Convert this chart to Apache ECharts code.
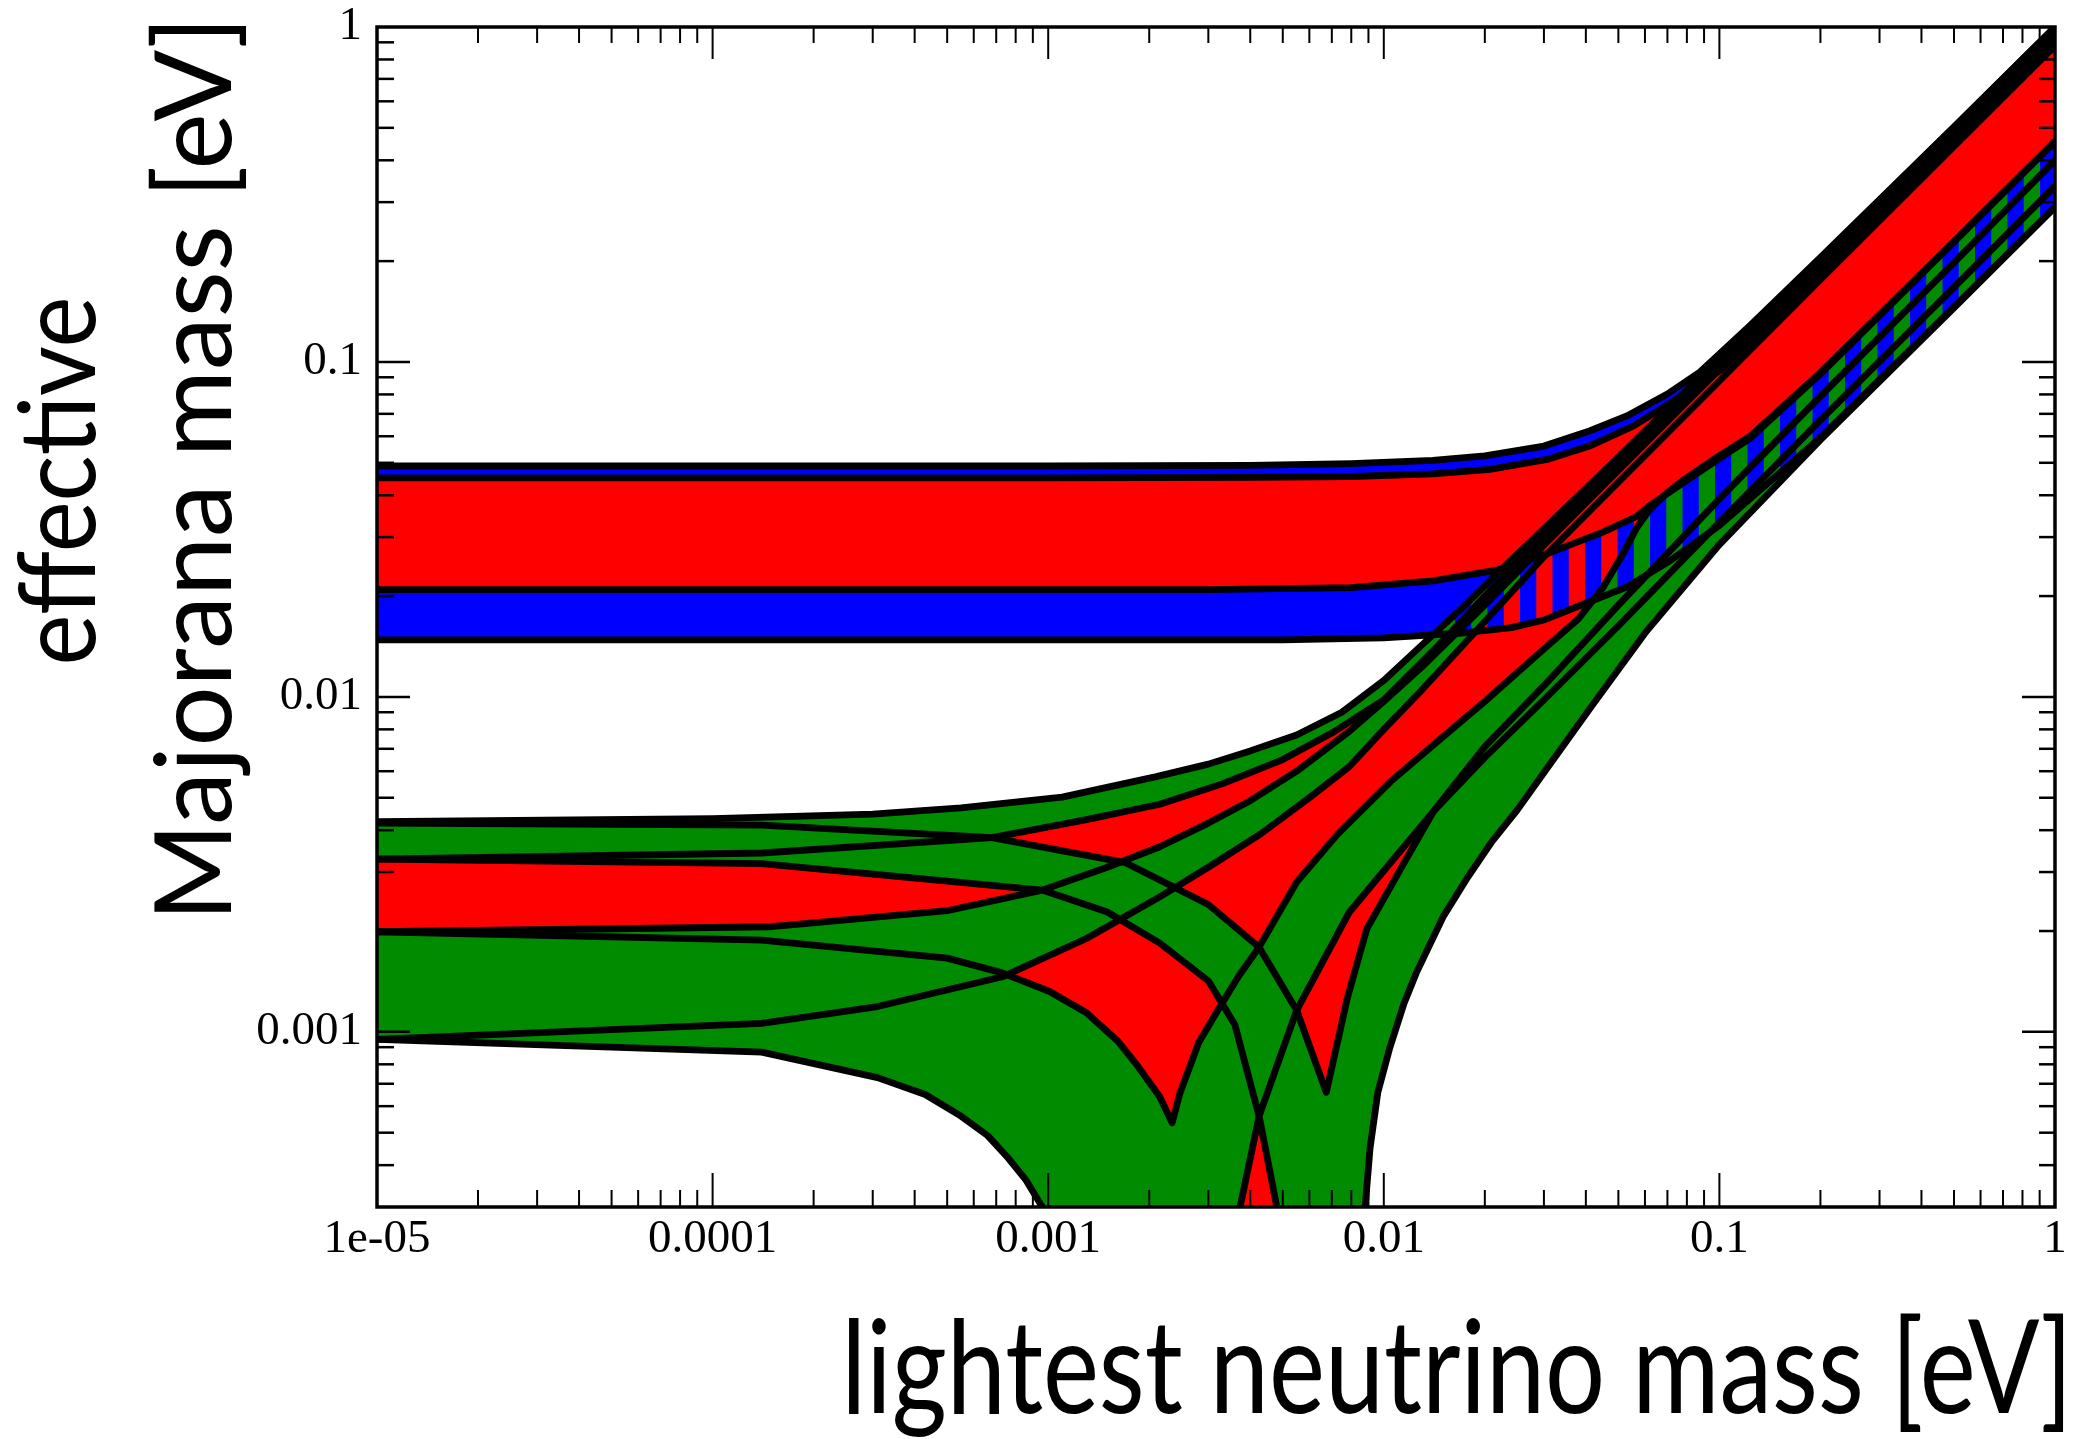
<!DOCTYPE html>
<html><head><meta charset="utf-8">
<script src="https://cdn.jsdelivr.net/npm/echarts@6/dist/echarts.min.js"></script>
<style>html,body{margin:0;padding:0;background:#fff}#c{width:2082px;height:1439px}</style>
</head><body><div id="c"></div>
<script>
// ---------- axis definitions ----------
const X_MIN = 1e-5, X_MAX = 1, Y_MIN = 3e-4, Y_MAX = 1;
const xTickValues = [1e-5, 1e-4, 1e-3, 1e-2, 1e-1, 1];
const xTickLabels = ['1e-05', '0.0001', '0.001', '0.01', '0.1', '1'];
const yTickValues = [1e-3, 1e-2, 1e-1, 1];
const yTickLabels = ['0.001', '0.01', '0.1', '1'];
const minorMultipliers = [2, 3, 4, 5, 6, 7, 8, 9];
const xDecades = [1e-5, 1e-4, 1e-3, 1e-2, 1e-1];
const yDecades = [1e-4, 1e-3, 1e-2, 1e-1];

// ---------- normal hierarchy curves [lightest mass, effective mass] ----------
const nhF1High = [[1e-5,0.00424],[1e-4,0.00433],[3e-4,0.00447],[5.5e-4,0.00466],[1.1e-3,0.00502],[2.1e-3,0.00578],[3e-3,0.0063],[4e-3,0.0069],[5.5e-3,0.0077],[7.5e-3,0.0090],[1e-2,0.0112],[1.3e-2,0.0143],[1.7e-2,0.0183],[2.2e-2,0.0236],[3e-2,0.0318],[5e-2,0.052],[0.1,0.103],[0.2,0.204],[0.5,0.502],[1,1.0]];
const nhF1Low  = [[1e-5,0.00328],[1.4e-4,0.00342],[6.8e-4,0.0038],[1.3e-3,0.0043],[2.15e-3,0.00478],[3.3e-3,0.0055],[5e-3,0.0065],[7e-3,0.0078],[1e-2,0.0098],[1.45e-2,0.0142],[2e-2,0.0200],[3e-2,0.0302],[5e-2,0.0502],[0.1,0.0995],[0.2,0.199],[0.5,0.495],[1,0.985]];
const nhF2High = [[1e-5,0.00199],[1.5e-4,0.00206],[5e-4,0.0023],[9.6e-4,0.00265],[1.5e-3,0.0031],[2.15e-3,0.00357],[3e-3,0.0042],[4e-3,0.0049],[5.5e-3,0.006],[7.9e-3,0.0079],[1e-2,0.0097],[1.3e-2,0.0123],[2e-2,0.0188],[3e-2,0.0284],[5e-2,0.0475],[0.1,0.095],[0.2,0.19],[0.5,0.474],[1,0.948]];
const nhF2Low  = [[1e-5,0.00095],[1.4e-4,0.00106],[3.1e-4,0.00119],[7.3e-4,0.00146],[1.3e-3,0.0019],[2.15e-3,0.00253],[3e-3,0.0031],[4.3e-3,0.0039],[6e-3,0.005],[7.9e-3,0.0062],[1e-2,0.008],[1.3e-2,0.0105],[2e-2,0.0168],[3e-2,0.0262],[5e-2,0.0438],[0.1,0.0878],[0.2,0.176],[0.5,0.44],[1,0.88]];
const nhF3High = [[1e-5,0.00199],[1.4e-4,0.00188],[5e-4,0.00166],[7.3e-4,0.0015],[1.01e-3,0.00132],[1.3e-3,0.00114],[1.61e-3,0.00094],[1.85e-3,0.00079],[2.15e-3,0.00064],[2.34e-3,0.000535],[2.47e-3,0.000657],[2.81e-3,0.00093],[3.17e-3,0.00114],[3.7e-3,0.00147],[4.25e-3,0.00179],[5.5e-3,0.0028],[7.3e-3,0.0039],[1.05e-2,0.0056],[1.5e-2,0.0076],[2e-2,0.0097],[3e-2,0.0139],[3.8e-2,0.0171],[4.5e-2,0.0212],[5.1e-2,0.0262],[5.65e-2,0.0318],[6.19e-2,0.0362],[7e-2,0.0408],[7.79e-2,0.0443],[0.1,0.0525],[0.123,0.0598],[0.2,0.093],[0.5,0.229],[1,0.456]];
const nhF3Low  = [[1e-5,0.00095],[1.4e-4,0.00087],[3.1e-4,0.00073],[4.3e-4,0.00065],[5.5e-4,0.00056],[6.6e-4,0.00049],[7.6e-4,0.00042],[8.6e-4,0.00036],[9.6e-4,0.0003],[1.05e-3,0.0002],[1.1e-3,0.0001],[3.4e-3,0.0001],[3.73e-3,0.0003],[4.25e-3,0.00056],[5.5e-3,0.00116],[7.9e-3,0.00228],[1.41e-2,0.00457],[2e-2,0.0066],[3e-2,0.0098],[5e-2,0.0163],[0.1,0.0332],[0.2,0.067],[0.5,0.167],[1,0.335]];
const nhF4High = [[1e-5,0.0042],[1.4e-4,0.00414],[6.8e-4,0.0038],[1.7e-3,0.0032],[2.15e-3,0.00284],[3e-3,0.0024],[4.25e-3,0.00179],[5.5e-3,0.00116],[6.74e-3,0.00066],[7.8e-3,0.00127],[8.9e-3,0.00203],[1.14e-2,0.00315],[1.41e-2,0.00457],[2e-2,0.0071],[3e-2,0.0108],[5e-2,0.0188],[0.1,0.039],[0.2,0.079],[0.5,0.198],[1,0.40]];
const nhF4Low  = [[1e-5,0.00328],[1.4e-4,0.00318],[9.6e-4,0.00265],[1.5e-3,0.00228],[2.15e-3,0.00184],[3e-3,0.00142],[3.6e-3,0.00105],[4.25e-3,0.00056],[4.8e-3,0.0003],[5.2e-3,0.0001],[8.3e-3,0.0001],[8.8e-3,0.0003],[9.1e-3,0.00045],[9.6e-3,0.00066],[1.04e-2,0.00089],[1.15e-2,0.00122],[1.25e-2,0.0015],[1.5e-2,0.0022],[1.78e-2,0.0029],[2.1e-2,0.0037],[2.5e-2,0.0046],[3.2e-2,0.0065],[4.2e-2,0.0095],[6e-2,0.0155],[0.1,0.0285],[0.2,0.0585],[0.5,0.145],[1,0.29]];

// ---------- inverted hierarchy curves ----------
const ihUpHigh = [[1e-5,0.0489],[1e-3,0.0489],[4e-3,0.0491],[8e-3,0.0497],[1.4e-2,0.0508],[2e-2,0.0524],[3e-2,0.0561],[4.1e-2,0.0622],[5.3e-2,0.069],[7e-2,0.0802],[8.75e-2,0.0933],[0.123,0.128],[0.2,0.205],[0.5,0.503],[1,1.0]];
const ihUpLow  = [[1e-5,0.0451],[1e-3,0.0451],[4e-3,0.0452],[8e-3,0.0455],[1.4e-2,0.0463],[2.07e-2,0.0478],[3.1e-2,0.0513],[4.1e-2,0.0561],[5.55e-2,0.0644],[7e-2,0.0745],[0.1,0.094],[0.2,0.186],[0.5,0.465],[1,0.93]];
const ihDnHigh = [[1e-5,0.0209],[3e-3,0.0209],[8e-3,0.0212],[1.4e-2,0.0222],[2.17e-2,0.0239],[3.14e-2,0.027],[4.48e-2,0.031],[5.65e-2,0.0345],[6.19e-2,0.0372],[7.79e-2,0.0435],[0.1,0.0515],[0.123,0.059],[0.2,0.092],[0.5,0.228],[1,0.455]];
const ihDnLow  = [[1e-5,0.0148],[5e-3,0.0148],[1e-2,0.015],[1.7e-2,0.0155],[2.4e-2,0.0161],[3.02e-2,0.017],[4.03e-2,0.0191],[5.31e-2,0.0213],[7e-2,0.0252],[0.1,0.0325],[0.2,0.0595],[0.5,0.146],[1,0.29]];

// ---------- styling ----------
const RED = '#ff0000', GREEN = '#008b00', BLUE = '#0000ff';
const CURVE_W = 6.8;

function stripeCanvas(color) {
  const c = document.createElement('canvas');
  c.width = 65; c.height = 8;
  const g = c.getContext('2d');
  g.fillStyle = color;
  g.fillRect(25, 0, 16.25, 8);
  g.fillRect(57.5, 0, 7.5, 8);
  g.fillRect(0, 0, 8.75, 8);
  return c;
}
const blueStripes = { image: stripeCanvas(BLUE), repeat: 'repeat' };

// lower edge of the normal-hierarchy region, taken from the data curves
const nhLowerEnvelope = nhF3Low.filter(p => p[0] <= 1.1e-3).concat(nhF4Low.filter(p => p[0] >= 8.3e-3));

const pts = (api, arr) => arr.map(p => api.coord(p));
const band = (api, upper, lower, fill) => ({
  type: 'polygon',
  shape: { points: pts(api, upper).concat(pts(api, lower).reverse()) },
  style: { fill: fill, stroke: null }
});
const curve = (api, arr) => ({
  type: 'polyline',
  shape: { points: pts(api, arr) },
  style: { stroke: '#000', lineWidth: CURVE_W, fill: null, lineJoin: 'round', lineCap: 'butt' }
});

function layer(z, clip, build) {
  return {
    type: 'custom', coordinateSystem: 'cartesian2d', clip: clip, z: z, silent: true,
    animation: false, data: [[1e-3, 1e-2]], encode: { x: 0, y: 1 },
    renderItem: (params, api) => ({ type: 'group', children: build(api) })
  };
}

function frameAndTicks(api) {
  const tl = api.coord([X_MIN, Y_MAX]), br = api.coord([X_MAX, Y_MIN]);
  const L = tl[0], T = tl[1], R = br[0], B = br[1];
  const els = [];
  const seg = (x1, y1, x2, y2, w) => els.push({ type: 'line', shape: { x1, y1, x2, y2 }, style: { stroke: '#000', lineWidth: w } });
  xDecades.forEach(d => minorMultipliers.forEach(k => {
    const x = api.coord([k * d, Y_MIN])[0];
    seg(x, B, x, B - 17, 2); seg(x, T, x, T + 16, 2);
  }));
  xTickValues.slice(1, -1).forEach(v => {
    const x = api.coord([v, Y_MIN])[0];
    seg(x, B, x, B - 34, 2); seg(x, T, x, T + 32, 2);
  });
  yDecades.forEach(d => minorMultipliers.forEach(k => {
    const v = k * d;
    if (v <= Y_MIN * 1.01 || v >= Y_MAX) return;
    const y = api.coord([X_MIN, v])[1];
    seg(L, y, L + 17, y, 2.5); seg(R, y, R - 16, y, 2.5);
  }));
  yTickValues.slice(0, -1).forEach(v => {
    const y = api.coord([X_MIN, v])[1];
    seg(L, y, L + 33, y, 2.5); seg(R, y, R - 33, y, 2.5);
  });
  els.push({ type: 'rect', shape: { x: L, y: T, width: R - L, height: B - T }, style: { fill: null, stroke: '#000', lineWidth: 3.5 } });
  xTickValues.forEach((v, i) => {
    const p = api.coord([v, Y_MIN]);
    els.push({ type: 'text', x: p[0], y: p[1] + 33, style: { text: xTickLabels[i], font: '47px "Liberation Serif"', fill: '#000', align: 'center', verticalAlign: 'middle' } });
  });
  yTickValues.forEach((v, i) => {
    const p = api.coord([X_MIN, v]);
    els.push({ type: 'text', x: p[0] - 15, y: p[1], style: { text: yTickLabels[i], font: '47px "Liberation Serif"', fill: '#000', align: 'right', verticalAlign: 'middle' } });
  });
  return els;
}

const chart = echarts.init(document.getElementById('c'), null, { renderer: 'canvas', width: 2082, height: 1439 });
chart.setOption({
  animation: false,
  backgroundColor: '#ffffff',
  grid: { left: 377, top: 27, width: 1678, height: 1180, show: false },
  xAxis: { type: 'log', logBase: 10, min: X_MIN, max: X_MAX, axisLine: { show: false }, axisTick: { show: false }, axisLabel: { show: false }, splitLine: { show: false } },
  yAxis: { type: 'log', logBase: 10, min: Y_MIN, max: Y_MAX, axisLine: { show: false }, axisTick: { show: false }, axisLabel: { show: false }, splitLine: { show: false } },
  series: [
    layer(1, true, api => [band(api, ihUpHigh, ihUpLow, BLUE), band(api, ihDnHigh, ihDnLow, BLUE)]),
    layer(2, true, api => [band(api, nhF1High, nhLowerEnvelope, RED)]),
    layer(3, true, api => [
      band(api, nhF1High, nhF1Low, GREEN),
      band(api, nhF2High, nhF2Low, GREEN),
      band(api, nhF3High, nhF3Low, GREEN),
      band(api, nhF4High, nhF4Low, GREEN)
    ]),
    layer(4, true, api => [band(api, ihUpHigh, ihUpLow, blueStripes), band(api, ihDnHigh, ihDnLow, blueStripes)]),
    layer(5, true, api => [band(api, ihUpLow, ihDnHigh, RED)]),
    layer(6, true, api => [nhF1High, nhF1Low, nhF2High, nhF2Low, nhF3High, nhF3Low, nhF4High, nhF4Low, ihUpHigh, ihUpLow, ihDnHigh, ihDnLow].map(c => curve(api, c))),
    layer(7, false, frameAndTicks)
  ],
  graphic: [
    { type: 'text', x: 1457, y: 1371, scaleX: 0.815, z: 10, style: { text: 'lightest neutrino mass [eV]', font: '130px Lato', fill: '#000', align: 'center', verticalAlign: 'middle' } },
    { type: 'text', x: 61, y: 481, rotation: Math.PI / 2, scaleX: 0.91, z: 10, style: { text: 'effective', font: '106px Lato', fill: '#000', align: 'center', verticalAlign: 'middle' } },
    { type: 'text', x: 197, y: 469, rotation: Math.PI / 2, z: 10, style: { text: 'Majorana mass [eV]', font: '106px Lato', fill: '#000', align: 'center', verticalAlign: 'middle' } }
  ]
});
</script>
</body></html>
